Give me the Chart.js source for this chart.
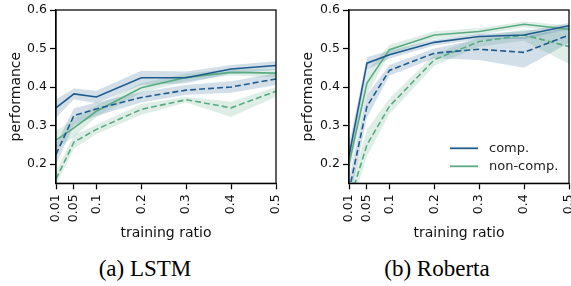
<!DOCTYPE html>
<html>
<head>
<meta charset="utf-8">
<script src="https://cdn.jsdelivr.net/npm/chart.js@4"></script>
<style>
  body { margin: 0; background: #fff; }
  #wrap { position: relative; width: 571px; height: 286px; overflow: hidden; }
  canvas { position: absolute; top: 0; }
  .cap { position: absolute; top: 256px; font-family: "Liberation Serif", "Times New Roman", serif; font-size: 23px; color: #000; text-align: center; width: 200px; }
</style>
</head>
<body>
<div id="wrap">
  <canvas id="lstm" width="290" height="245" style="left:0px"></canvas>
  <canvas id="roberta" width="281" height="245" style="left:290px"></canvas>
  <div class="cap" style="left:45px">(a) LSTM</div>
  <div class="cap" style="left:337px">(b) Roberta</div>
</div>
<script>
const ratios = [0.01, 0.05, 0.1, 0.2, 0.3, 0.4, 0.5];
const yTicks = [0.2, 0.3, 0.4, 0.5, 0.6];
const seriesNames = ["comp.", "non-comp."];

// LSTM
const lstmComp = [0.346, 0.382, 0.374, 0.424, 0.424, 0.447, 0.456];
const lstmCompLo = [0.32, 0.368, 0.358, 0.405, 0.41, 0.435, 0.444];
const lstmCompHi = [0.368, 0.396, 0.39, 0.442, 0.44, 0.457, 0.467];
const lstmCompDash = [0.225, 0.326, 0.343, 0.373, 0.392, 0.400, 0.421];
const lstmCompDashLo = [0.20, 0.30, 0.325, 0.36, 0.38, 0.385, 0.405];
const lstmCompDashHi = [0.25, 0.345, 0.36, 0.387, 0.405, 0.415, 0.436];
const lstmNon = [0.262, 0.294, 0.337, 0.398, 0.425, 0.438, 0.436];
const lstmNonLo = [0.24, 0.27, 0.322, 0.385, 0.415, 0.43, 0.425];
const lstmNonHi = [0.285, 0.318, 0.352, 0.41, 0.435, 0.446, 0.446];
const lstmNonDash = [0.161, 0.257, 0.29, 0.342, 0.367, 0.346, 0.389];
const lstmNonDashLo = [0.145, 0.24, 0.278, 0.328, 0.36, 0.322, 0.375];
const lstmNonDashHi = [0.18, 0.275, 0.302, 0.356, 0.375, 0.362, 0.40];

// Roberta
const robComp = [0.22, 0.462, 0.484, 0.516, 0.531, 0.535, 0.559];
const robCompLo = [0.19, 0.445, 0.474, 0.508, 0.524, 0.525, 0.55];
const robCompHi = [0.25, 0.477, 0.495, 0.523, 0.538, 0.545, 0.566];
const robCompDash = [0.13, 0.35, 0.443, 0.488, 0.498, 0.49, 0.535];
const robCompDashLo = [0.10, 0.32, 0.43, 0.475, 0.47, 0.45, 0.515];
const robCompDashHi = [0.16, 0.38, 0.457, 0.5, 0.525, 0.53, 0.556];
const robNon = [0.20, 0.41, 0.497, 0.535, 0.544, 0.563, 0.55];
const robNonLo = [0.17, 0.38, 0.485, 0.525, 0.535, 0.555, 0.54];
const robNonHi = [0.23, 0.44, 0.51, 0.545, 0.553, 0.57, 0.56];
const robNonDash = [0.10, 0.25, 0.35, 0.471, 0.518, 0.535, 0.505];
const robNonDashLo = [0.07, 0.22, 0.33, 0.455, 0.505, 0.52, 0.46];
const robNonDashHi = [0.13, 0.29, 0.37, 0.485, 0.53, 0.55, 0.54];

const blue = "#1f5c8e";
const green = "#5aab82";
const blueBand = "rgba(31,92,142,0.2)";
const greenBand = "rgba(90,171,130,0.2)";

function pts(ys) {
  return ys.map((y, i) => ({ x: ratios[i], y: y }));
}

// band = lo + hi (filled to lo) + mean line
function group(mean, lo, hi, color, band, dashed) {
  return [
    { data: pts(lo), borderWidth: 0, pointRadius: 0, fill: false, order: 3 },
    { data: pts(hi), borderWidth: 0, pointRadius: 0, fill: "-1", backgroundColor: band, order: 3 },
    { data: pts(mean), borderColor: color, borderWidth: 1.6, pointRadius: 0, fill: false,
      borderDash: dashed ? [6, 3] : [], order: 1 }
  ];
}

const framePlugin = {
  id: "frame",
  afterDatasetsDraw(chart) {
    const a = chart.chartArea;
    const c = chart.ctx;
    c.save();
    c.strokeStyle = "#000";
    c.lineWidth = 1.25;
    c.strokeRect(a.left, a.top, a.right - a.left, a.bottom - a.top);
    c.restore();
  }
};

const legendPlugin = {
  id: "insideLegend",
  afterDraw(chart) {
    if (!chart.options.plugins.insideLegend) return;
    const a = chart.chartArea;
    const c = chart.ctx;
    const colors = [blue, green];
    c.save();
    c.font = "13px 'DejaVu Sans'";
    c.textBaseline = "middle";
    seriesNames.forEach((name, i) => {
      const y = a.bottom - 35 + i * 18;
      c.strokeStyle = colors[i];
      c.lineWidth = 1.8;
      c.beginPath();
      c.moveTo(a.right - 119, y);
      c.lineTo(a.right - 91, y);
      c.stroke();
      c.fillStyle = "#222";
      c.fillText(name, a.right - 80, y);
    });
    c.restore();
  }
};

function makeChart(id, sets, yWidth, padRight, titlePad, legend) {
  const H = 245;
  return new Chart(document.getElementById(id), {
    type: "line",
    data: { datasets: sets },
    plugins: [framePlugin, legendPlugin],
    options: {
      responsive: false,
      animation: false,
      devicePixelRatio: 1,
      parsing: true,
      elements: { line: { tension: 0 } },
      layout: { padding: { left: 0, top: 10, right: padRight, bottom: 0 } },
      plugins: { legend: { display: false }, tooltip: { enabled: false }, insideLegend: legend },
      scales: {
        x: {
          type: "linear",
          min: 0.01,
          max: 0.5,
          afterBuildTicks(s) { s.ticks = ratios.map(v => ({ value: v })); },
          afterFit(s) { s.height = H - 183.3; s.paddingLeft = 0; s.paddingRight = 0; },
          border: { color: "#000", width: 1.25 },
          grid: { drawOnChartArea: false, drawTicks: true, tickLength: 6, tickColor: "#000", tickWidth: 1.25 },
          ticks: {
            autoSkip: false, minRotation: 90, maxRotation: 90, padding: 5,
            color: "#111", font: { family: "DejaVu Sans", size: 12.5 },
            callback: v => String(v)
          },
          title: { display: true, text: "training ratio", color: "#111", padding: 3.5,
                   font: { family: "DejaVu Sans", size: 14 } }
        },
        y: {
          min: 0.15,
          max: 0.6,
          afterBuildTicks(s) { s.ticks = yTicks.map(v => ({ value: v })); },
          afterFit(s) { s.width = yWidth; s.paddingTop = 0; s.paddingBottom = 0; },
          border: { color: "#000", width: 1.25 },
          grid: { drawOnChartArea: false, drawTicks: true, tickLength: 6, tickColor: "#000", tickWidth: 1.25 },
          ticks: {
            padding: 3, color: "#111", font: { family: "DejaVu Sans", size: 12.5 },
            callback: v => v.toFixed(1)
          },
          title: { display: true, text: "performance", color: "#111", padding: titlePad,
                   font: { family: "DejaVu Sans", size: 14 } }
        }
      }
    }
  });
}

makeChart("lstm", [].concat(
  group(lstmComp, lstmCompLo, lstmCompHi, blue, blueBand, false),
  group(lstmCompDash, lstmCompDashLo, lstmCompDashHi, blue, blueBand, true),
  group(lstmNon, lstmNonLo, lstmNonHi, green, greenBand, false),
  group(lstmNonDash, lstmNonDashLo, lstmNonDashHi, green, greenBand, true)
), 56, 14, 8, false);

makeChart("roberta", [].concat(
  group(robComp, robCompLo, robCompHi, blue, blueBand, false),
  group(robCompDash, robCompDashLo, robCompDashHi, blue, blueBand, true),
  group(robNon, robNonLo, robNonHi, green, greenBand, false),
  group(robNonDash, robNonDashLo, robNonDashHi, green, greenBand, true)
), 59, 2, 10, true);
</script>
</body>
</html>
